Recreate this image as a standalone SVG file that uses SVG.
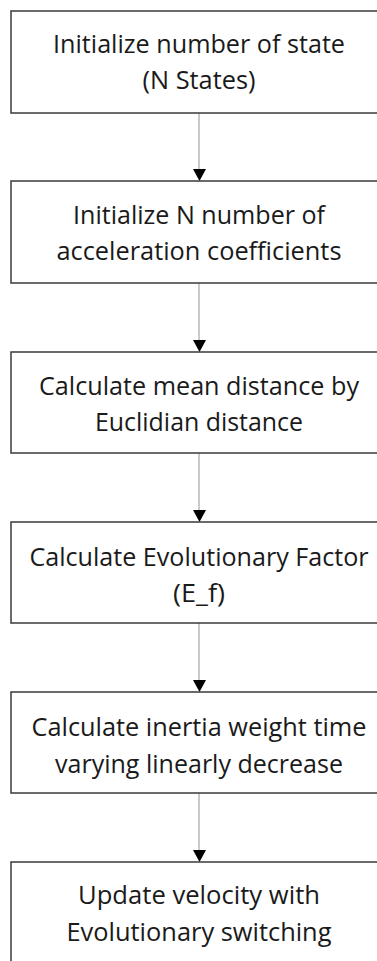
<svg xmlns="http://www.w3.org/2000/svg" width="377" height="961" viewBox="0 0 377 961">
<defs>
<style>
.box{fill:#ffffff;stroke:#3a3a3a;stroke-width:1.5}
.t{font-family:"Open Sans","Noto Sans",sans-serif;font-size:25px;fill:#1a1a1a;text-anchor:middle}
.c{stroke:#a6a6a6;stroke-width:1.2;fill:none}
.ah{fill:#000000}
</style>
</defs>
<rect width="377" height="961" fill="#ffffff"/>
<g id="connectors">
<line class="c" x1="199" y1="113" x2="199" y2="170"/><polygon class="ah" points="193,169 206,169 199.5,181"/>
<line class="c" x1="199" y1="283" x2="199" y2="341"/><polygon class="ah" points="193,340 206,340 199.5,352"/>
<line class="c" x1="199" y1="453" x2="199" y2="511"/><polygon class="ah" points="193,510 206,510 199.5,522"/>
<line class="c" x1="199" y1="623" x2="199" y2="681"/><polygon class="ah" points="193,680 206,680 199.5,692"/>
<line class="c" x1="199" y1="793" x2="199" y2="851"/><polygon class="ah" points="193,850 206,850 199.5,862"/>
</g>
<g id="n1"><rect class="box" x="11" y="11" width="380" height="102"/>
<text class="t" x="199" y="53" textLength="292" lengthAdjust="spacingAndGlyphs">Initialize number of state</text>
<text class="t" x="199" y="89" textLength="113" lengthAdjust="spacingAndGlyphs">(N States)</text></g>
<g id="n2"><rect class="box" x="11" y="181" width="380" height="102"/>
<text class="t" x="199" y="224" textLength="252" lengthAdjust="spacingAndGlyphs">Initialize N number of</text>
<text class="t" x="199" y="260" textLength="285" lengthAdjust="spacingAndGlyphs">acceleration coefficients</text></g>
<g id="n3"><rect class="box" x="11" y="352" width="380" height="101"/>
<text class="t" x="199" y="395" textLength="320" lengthAdjust="spacingAndGlyphs">Calculate mean distance by</text>
<text class="t" x="199" y="431" textLength="208" lengthAdjust="spacingAndGlyphs">Euclidian distance</text></g>
<g id="n4"><rect class="box" x="11" y="522" width="380" height="101"/>
<text class="t" x="199" y="566" textLength="339" lengthAdjust="spacingAndGlyphs">Calculate Evolutionary Factor</text>
<text class="t" x="199" y="602" textLength="52" lengthAdjust="spacingAndGlyphs">(E_f)</text></g>
<g id="n5"><rect class="box" x="11" y="692" width="380" height="101"/>
<text class="t" x="199" y="736" textLength="335" lengthAdjust="spacingAndGlyphs">Calculate inertia weight time</text>
<text class="t" x="199" y="773" textLength="288" lengthAdjust="spacingAndGlyphs">varying linearly decrease</text></g>
<g id="n6"><rect class="box" x="11" y="862" width="380" height="120"/>
<text class="t" x="199" y="904" textLength="242" lengthAdjust="spacingAndGlyphs">Update velocity with</text>
<text class="t" x="199" y="941" textLength="265" lengthAdjust="spacingAndGlyphs">Evolutionary switching</text></g>
</svg>
